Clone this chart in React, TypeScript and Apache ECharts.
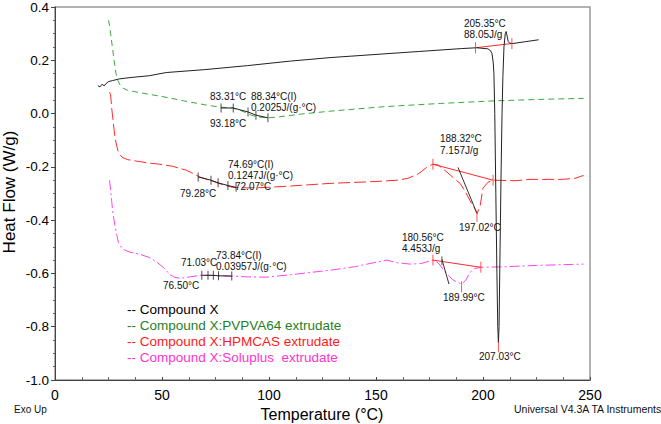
import React, { useEffect, useRef } from "react";
import * as echarts from "echarts";

// ---- data: [temperature °C, heat flow W/g] ----
const compoundX: number[][] = [
  [20, 0.105], [21, 0.1], [22, 0.11], [23, 0.104], [24, 0.114], [25, 0.12], [27, 0.124], [30, 0.13],
  [35, 0.135], [44, 0.142], [52, 0.154], [70, 0.165], [90, 0.18], [110, 0.197], [128.5, 0.21],
  [150, 0.222], [170, 0.233], [190, 0.244], [197, 0.247], [202.3, 0.243], [203.5, 0.236],
  [204.2, 0.225], [204.8, 0.19], [205.1, 0.15], [205.5, 0.0], [206, -0.3], [206.5, -0.6],
  [206.9, -0.8], [207.2, -0.86], [207.5, -0.8], [207.9, -0.55], [208.4, -0.25], [208.9, 0.0],
  [209.3, 0.14], [209.8, 0.25], [210.4, 0.3], [210.8, 0.308], [211.3, 0.29], [211.8, 0.27],
  [212.5, 0.264], [214, 0.263], [220, 0.27], [226, 0.277],
];
const pvpva64: number[][] = [
  [25, 0.35], [25.5, 0.33], [26, 0.3], [26.8, 0.25], [27.6, 0.2], [28.5, 0.15], [29.4, 0.124],
  [30.4, 0.107], [31.8, 0.095], [34, 0.087], [40, 0.078], [50, 0.064], [60, 0.048], [70, 0.033],
  [77, 0.024], [83, 0.021], [86, 0.014], [89, 0.004], [92, -0.007], [95, -0.013], [100, -0.016],
  [105, -0.012], [115, -0.002], [128.5, 0.009], [154, 0.026], [180, 0.038], [206, 0.048],
  [230, 0.054], [247, 0.057],
];
const hpmcas: number[][] = [
  [25.5, 0.08], [26, 0.07], [26.5, 0.02], [27.2, -0.03], [28, -0.09], [29.4, -0.14], [30.5, -0.157],
  [31.8, -0.166], [34, -0.173], [37, -0.177], [44, -0.186], [49, -0.19], [55, -0.198],
  [61.5, -0.213], [67.7, -0.238], [73, -0.252], [78, -0.266], [83, -0.277], [90, -0.279],
  [99, -0.277], [110, -0.272], [128.5, -0.262], [150, -0.255], [160, -0.25], [165, -0.243],
  [170, -0.225], [174, -0.2], [176.6, -0.19], [179, -0.193], [183.2, -0.22], [186, -0.24],
  [189.3, -0.262], [191.5, -0.29], [193.9, -0.326], [196, -0.355], [197.2, -0.375], [198.6, -0.35],
  [200, -0.28], [202.3, -0.258], [204.7, -0.25], [215, -0.252], [222, -0.247], [237, -0.247],
  [243, -0.243], [247, -0.232],
];
const soluplus: number[][] = [
  [25.5, -0.25], [26, -0.29], [26.5, -0.33], [27, -0.37], [28, -0.42], [29, -0.46], [29.6, -0.483],
  [31, -0.502], [32, -0.51], [35, -0.52], [39.7, -0.528], [44, -0.54], [47.6, -0.558], [51, -0.58],
  [53.7, -0.605], [56, -0.615], [59, -0.618], [63, -0.613], [67.8, -0.607], [75, -0.608],
  [83, -0.61], [90, -0.613], [99, -0.614], [110, -0.605], [128.5, -0.588], [140, -0.575],
  [150, -0.558], [155, -0.55], [160, -0.56], [166, -0.565], [171, -0.563], [176.6, -0.55],
  [179, -0.56], [183, -0.6], [186, -0.625], [190, -0.64], [192, -0.625], [194, -0.595],
  [196, -0.582], [199, -0.577], [210, -0.575], [225, -0.57], [247, -0.565],
];

// analysis constructions
const compoundXBaseline: number[][] = [[196.5, 0.247], [213.5, 0.263]];
const compoundXTicks: number[][] = [[196.5, 0.247], [213.5, 0.263], [207.2, -0.875]];
const hpmcasBaseline: number[][] = [[176.6, -0.19], [204.7, -0.25]];
const hpmcasTicks: number[][] = [[176.6, -0.19], [204.7, -0.25], [197.2, -0.385]];
const hpmcasTangent: number[][] = [[188.3, -0.202], [197.2, -0.375]];
const soluplusBaseline: number[][] = [[176.6, -0.55], [199, -0.577]];
const soluplusTicks: number[][] = [[176.6, -0.55], [199, -0.577], [190, -0.65]];
const soluplusTangent: number[][] = [[180.8, -0.547], [184.1, -0.64]];
const soluplusTangentTick: number[][] = [[180.8, -0.552]];
const pvpvaTg: number[][] = [[77.6, 0.021], [83.3, 0.021], [90.2, 0.006], [93.9, -0.006], [99.5, -0.016]];
const hpmcasTg: number[][] = [[66.9, -0.238], [72.9, -0.25], [76.2, -0.26], [80.8, -0.27], [84.6, -0.277]];
const soluplusTg: number[][] = [[68.6, -0.607], [71.5, -0.607], [74, -0.607], [76.4, -0.609], [82.6, -0.61]];

const legendNames = [
  "-- Compound X",
  "-- Compound X:PVPVA64 extrudate",
  "-- Compound X:HPMCAS extrudate",
  "-- Compound X:Soluplus  extrudate",
];
const legendColors = ["#000000", "#1f7f1f", "#ff1a1a", "#ff33cc"];

const annotations: { t: string; x: number; y: number }[] = [
  { t: "205.35°C", x: 464, y: 23 },
  { t: "88.05J/g", x: 464, y: 34 },
  { t: "83.31°C", x: 210, y: 96 },
  { t: "88.34°C(I)", x: 251, y: 96 },
  { t: "0.2025J/(g·°C)", x: 251, y: 107 },
  { t: "93.18°C", x: 210, y: 123 },
  { t: "74.69°C(I)", x: 228, y: 164 },
  { t: "0.1247J/(g·°C)", x: 228, y: 175 },
  { t: "72.07°C", x: 235, y: 186 },
  { t: "79.28°C", x: 180, y: 193 },
  { t: "188.32°C", x: 440, y: 138 },
  { t: "7.157J/g", x: 440, y: 150 },
  { t: "197.02°C", x: 459, y: 227 },
  { t: "180.56°C", x: 402, y: 237 },
  { t: "4.453J/g", x: 402, y: 248 },
  { t: "189.99°C", x: 443, y: 297 },
  { t: "207.03°C", x: 479, y: 356 },
  { t: "71.03°C", x: 181, y: 262 },
  { t: "73.84°C(I)", x: 216, y: 255 },
  { t: "0.03957J/(g·°C)", x: 216, y: 266 },
  { t: "76.50°C", x: 163, y: 285 },
];

const FONT = "Liberation Sans, Arial, sans-serif";

function lineSeries(data: number[][], color: string, type: any, width = 1, z = 2) {
  return {
    type: "line",
    data,
    showSymbol: false,
    symbol: "none",
    silent: true,
    z,
    lineStyle: { color, width, type },
  };
}
function tickSeries(data: number[][], color: string, h = 10) {
  return {
    type: "scatter",
    data,
    symbol: "rect",
    symbolSize: [1, h],
    silent: true,
    z: 4,
    itemStyle: { color },
  };
}

export default function App() {
  const ref = useRef<HTMLDivElement>(null);
  useEffect(() => {
    if (!ref.current) return;
    const chart = echarts.init(ref.current, null, { renderer: "svg" });
    const graphics: any[] = [];
    annotations.forEach((a) =>
      graphics.push({
        type: "text",
        x: a.x,
        y: a.y,
        z: 10,
        style: { text: a.t, fill: "#111", font: `10px ${FONT}`, textVerticalAlign: "middle" },
      })
    );
    legendNames.forEach((n, i) =>
      graphics.push({
        type: "text",
        x: 127,
        y: [309, 325, 341, 357][i],
        z: 10,
        style: { text: n, fill: legendColors[i], font: `13.5px ${FONT}`, textVerticalAlign: "middle" },
      })
    );
    graphics.push({
      type: "text", x: 14, y: 409,
      style: { text: "Exo Up", fill: "#111", font: `10px ${FONT}`, textVerticalAlign: "middle" },
    });
    graphics.push({
      type: "text", x: 514, y: 409,
      style: { text: "Universal V4.3A TA Instruments", fill: "#111", font: `10.5px ${FONT}`, textVerticalAlign: "middle" },
    });
    graphics.push({
      type: "text", x: 322, y: 414,
      style: { text: "Temperature (°C)", fill: "#000", font: `16px ${FONT}`, textAlign: "center", textVerticalAlign: "middle" },
    });
    graphics.push({
      type: "text", x: 9, y: 192, rotation: Math.PI / 2,
      style: { text: "Heat Flow (W/g)", fill: "#000", font: `17px ${FONT}`, textAlign: "center", textVerticalAlign: "middle" },
    });

    chart.setOption({
      animation: false,
      backgroundColor: "#fff",
      grid: {
        left: 55, right: 71, top: 7, bottom: 44,
        show: true, borderColor: "#999", borderWidth: 1.5,
        outerBoundsMode: "none",
      },
      xAxis: {
        type: "value", min: 0, max: 250, interval: 50,
        axisLine: { show: true, onZero: false, lineStyle: { color: "#444", width: 1 } },
        axisTick: { show: true, inside: true, length: 3, lineStyle: { color: "#444" } },
        minorTick: { show: true, splitNumber: 4, length: 3, lineStyle: { color: "#666" } },
        splitLine: { show: false },
        axisLabel: { fontSize: 14, color: "#000", margin: 8, fontFamily: FONT },
      },
      yAxis: {
        type: "value", min: -1, max: 0.4, interval: 0.2,
        axisLine: { show: true, onZero: false, lineStyle: { color: "#444", width: 1 } },
        axisTick: { show: true, length: 4, lineStyle: { color: "#444" } },
        minorTick: { show: true, splitNumber: 4, length: 2, lineStyle: { color: "#666" } },
        splitLine: { show: false },
        axisLabel: {
          fontSize: 13.5, color: "#000", margin: 6, fontFamily: FONT,
          formatter: (v: number) => v.toFixed(1),
        },
      },
      graphic: graphics,
      series: [
        lineSeries(pvpva64, "#3ea83e", [6, 4]),
        lineSeries(hpmcas, "#ff2a2a", [12, 4]),
        lineSeries(soluplus, "#ff44ee", [10, 3, 2, 3]),
        lineSeries(compoundX, "#222222", "solid", 1, 3),
        lineSeries(compoundXBaseline, "#ff2a2a", "solid"),
        tickSeries(compoundXTicks, "#ff2a2a", 11),
        lineSeries(hpmcasBaseline, "#ff2a2a", "solid"),
        tickSeries(hpmcasTicks, "#ff2a2a", 11),
        lineSeries(hpmcasTangent, "#333333", "solid"),
        lineSeries(soluplusBaseline, "#ff2a2a", "solid"),
        tickSeries(soluplusTicks, "#ff2a2a", 11),
        lineSeries(soluplusTangent, "#333333", "solid"),
        tickSeries(soluplusTangentTick, "#333333", 9),
        lineSeries(pvpvaTg, "#222222", "solid"),
        tickSeries(pvpvaTg, "#222222", 9),
        lineSeries(hpmcasTg, "#222222", "solid"),
        tickSeries(hpmcasTg, "#222222", 9),
        lineSeries(soluplusTg, "#222222", "solid"),
        tickSeries(soluplusTg, "#222222", 9),
      ],
    });
    return () => chart.dispose();
  }, []);
  return (
    <div
      ref={ref}
      style={{ position: "fixed", left: 0, top: 0, width: 661, height: 424, background: "#fff" }}
    />
  );
}
